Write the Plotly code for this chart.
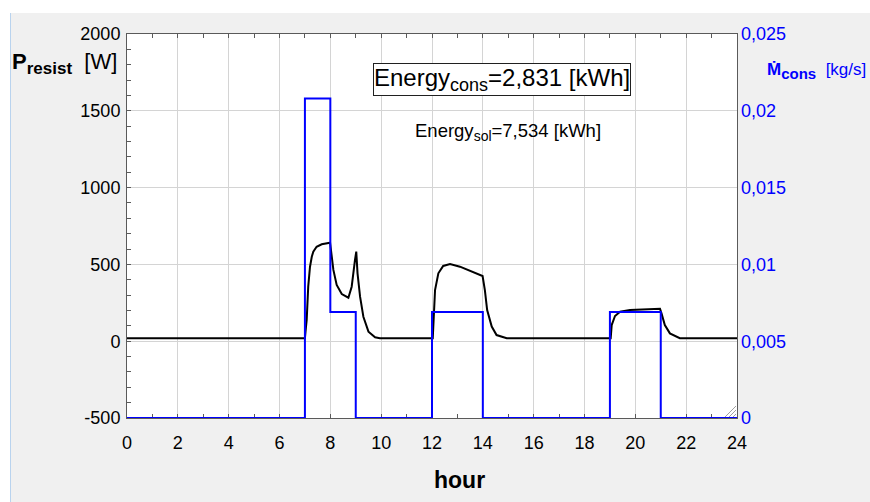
import plotly.graph_objects as go

# ---- data -------------------------------------------------------------
# consumer mass flow (kg/s), step profile: value holds from each hour to the next
flow_hours = [0, 7, 8, 9, 12, 14, 19, 21, 24]
flow_kgs = [0, 0.0208, 0.0069, 0, 0.0069, 0, 0.0069, 0, 0]

# electric resistance power (W)
power_hours = [0, 7.0, 7.04, 7.07, 7.13, 7.2, 7.27, 7.33, 7.46, 7.66, 7.99,
               8.05, 8.12, 8.25, 8.45, 8.71, 8.84, 8.97, 9.02, 9.07, 9.17,
               9.3, 9.5, 9.76, 9.95, 12.03, 12.05, 12.12, 12.25, 12.44, 12.71,
               13.1, 13.99, 14.08, 14.17, 14.35, 14.54, 14.94, 19.03, 19.07,
               19.2, 19.4, 19.79, 20.4, 20.97, 21.03, 21.16, 21.36, 21.75, 24]
power_w = [20, 20, 90, 138, 355, 485, 550, 583, 615, 631, 641,
           572, 464, 366, 307, 283, 355, 529, 583, 442, 290,
           159, 62, 25, 20, 20, 117, 333, 442, 490, 503,
           485, 424, 333, 203, 95, 40, 20, 20, 105,
           164, 192, 203, 208, 211, 181, 105, 51, 20, 20]

# axis ticks
hour_ticks = list(range(0, 25, 2))
power_ticks = [-500, 0, 500, 1000, 1500, 2000]
power_tick_text = ["-500", "0", "500", "1000", "1500", "2000"]
flow_ticks = [0, 0.005, 0.01, 0.015, 0.02, 0.025]
flow_tick_text = ["0", "0,005", "0,01", "0,015", "0,02", "0,025"]

energy_cons = "2,831"
energy_sol = "7,534"

# ---- figure -----------------------------------------------------------
FONT = "Liberation Sans, Arial, sans-serif"
BLUE = "#0000ff"
FRAME = "#5a5a5a"
GRID = "#d4d4d4"

fig = go.Figure()
fig.add_trace(go.Scatter(x=flow_hours, y=flow_kgs, yaxis="y2", mode="lines",
                         line=dict(color=BLUE, width=2, shape="hv"),
                         hoverinfo="skip", showlegend=False))
fig.add_trace(go.Scatter(x=power_hours, y=power_w, mode="lines",
                         line=dict(color="black", width=2),
                         hoverinfo="skip", showlegend=False))

# plot-area geometry in pixels
W, H = 870, 502
L, R, T, B = 127, 133, 34, 84
PW, PH = W - L - R, H - T - B


def px(xp):
    return (xp - L) / PW


def py(yp):
    return (H - B - yp) / PH


shapes = [
    # white strips above / left of the grey panel
    dict(type="rect", xref="paper", yref="paper", x0=px(0), x1=px(W),
         y0=py(13), y1=py(0), fillcolor="white", line_width=0, layer="below"),
    dict(type="rect", xref="paper", yref="paper", x0=px(0), x1=px(10),
         y0=py(H), y1=py(0), fillcolor="white", line_width=0, layer="below"),
    dict(type="line", xref="paper", yref="paper", x0=px(10.5), x1=px(10.5),
         y0=py(H), y1=py(13), line=dict(color="#b9d3ee", width=1), layer="below"),
]
# resize grip in the lower right corner of the plot
for k in (4, 8, 12):
    shapes.append(dict(type="line", xref="paper", yref="paper",
                       x0=px(L + PW - k), y0=py(H - B - 1),
                       x1=px(L + PW - 1), y1=py(H - B - k),
                       line=dict(color="#a0a0a0", width=1)))

annotations = [
    dict(text="<b>P<sub><span style='font-size:17px'>resist</span></sub></b>  [W]",
         xref="paper", yref="paper", x=px(10), y=py(63), xanchor="left",
         yanchor="middle", showarrow=False, font=dict(size=22, color="black")),
    dict(text="<b>Ṁ<sub><span style='font-size:15px'>cons</span></sub></b>  [kg/s]",
         xref="paper", yref="paper", x=px(765), y=py(71), xanchor="left",
         yanchor="middle", showarrow=False, font=dict(size=17, color=BLUE)),
    dict(text=f"Energy<sub><span style='font-size:18px'>cons</span></sub>={energy_cons} [kWh]",
         xref="paper", yref="paper", x=px(502), y=py(79), xanchor="center",
         yanchor="middle", showarrow=False, font=dict(size=24, color="black"),
         bordercolor="#202020", borderwidth=1, borderpad=0, bgcolor="white"),
    dict(text=f"Energy<sub><span style='font-size:14px'>sol</span></sub>={energy_sol} [kWh]",
         xref="paper", yref="paper", x=px(508), y=py(132), xanchor="center",
         yanchor="middle", showarrow=False, font=dict(size=18.5, color="black")),
    dict(text="<b>hour</b>", xref="paper", yref="paper", x=px(459.5), y=py(480),
         xanchor="center", yanchor="middle", showarrow=False,
         font=dict(size=23, color="black")),
]

fig.update_layout(
    width=W, height=H, autosize=False,
    margin=dict(l=L, r=R, t=T, b=B, pad=0),
    paper_bgcolor="#f0f0f0", plot_bgcolor="white",
    font=dict(family=FONT, size=18, color="black"),
    shapes=shapes, annotations=annotations,
    xaxis=dict(range=[0, 24], tickvals=hour_ticks, showgrid=True,
               gridcolor=GRID, gridwidth=1, zeroline=False,
               showline=True, linecolor=FRAME, linewidth=1, mirror="ticks",
               ticks="inside", ticklen=4, tickcolor=FRAME,
               minor=dict(dtick=1, ticks="inside", ticklen=4, tickcolor=FRAME,
                          showgrid=False),
               tickfont=dict(size=18), ticklabelstandoff=8, layer="below traces"),
    yaxis=dict(range=[-500, 2000], tickvals=power_ticks, ticktext=power_tick_text,
               showgrid=True, gridcolor=GRID, gridwidth=1, zeroline=False,
               showline=True, linecolor=FRAME, linewidth=1, mirror=True,
               ticks="inside", ticklen=4, tickcolor=FRAME,
               minor=dict(dtick=100, ticks="inside", ticklen=4, tickcolor=FRAME,
                          showgrid=False),
               tickfont=dict(size=18), ticklabelstandoff=2),
    yaxis2=dict(range=[0, 0.025], overlaying="y", side="right",
                tickvals=flow_ticks, ticktext=flow_tick_text, showgrid=False,
                zeroline=False, showline=False, ticks="",
                tickfont=dict(size=18, color=BLUE), ticklabelstandoff=3),
)

fig.write_html("out.html")
